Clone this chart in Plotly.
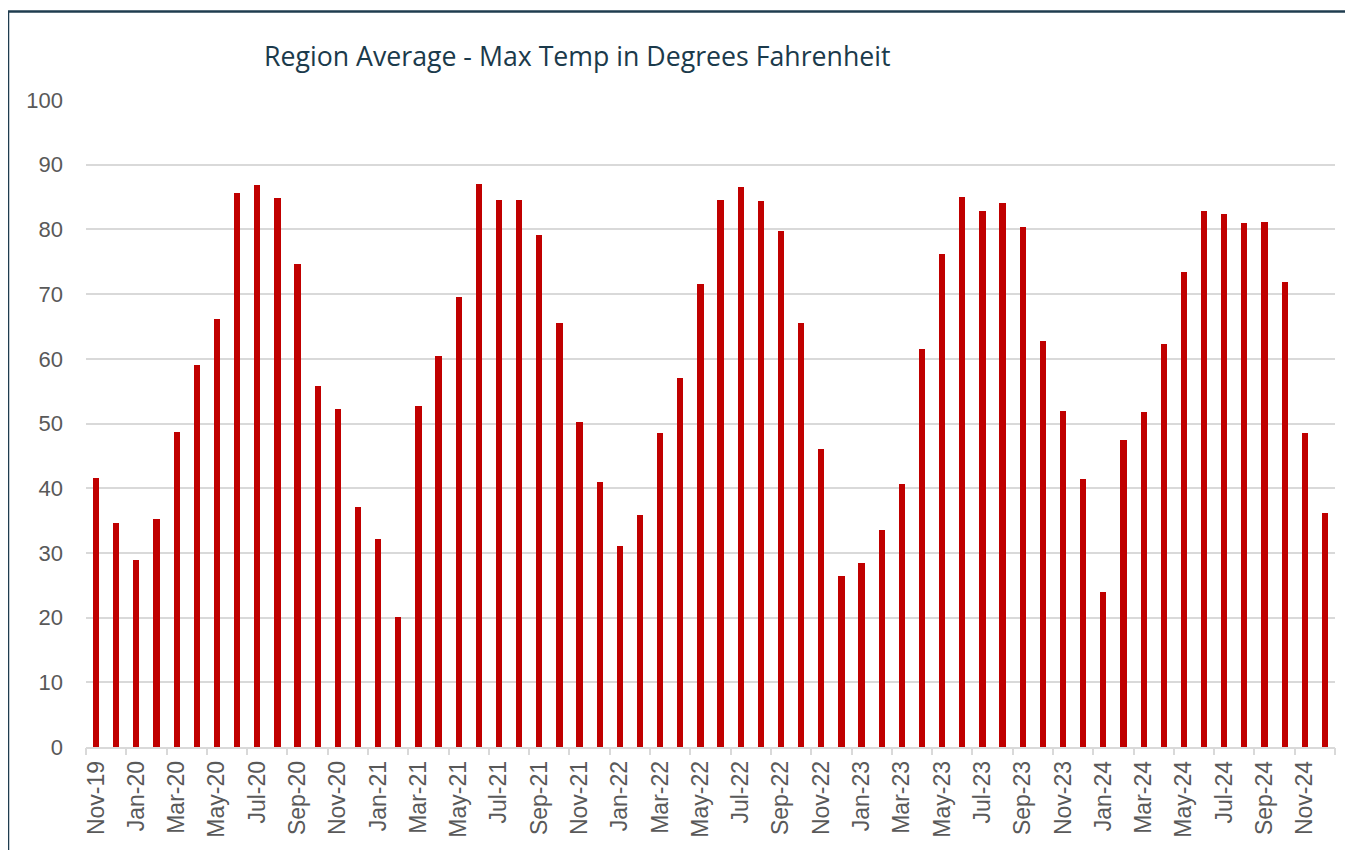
import plotly.graph_objects as go

months = [
    "Nov-19", "Dec-19",
    "Jan-20", "Feb-20", "Mar-20", "Apr-20", "May-20", "Jun-20", "Jul-20", "Aug-20", "Sep-20", "Oct-20", "Nov-20", "Dec-20",
    "Jan-21", "Feb-21", "Mar-21", "Apr-21", "May-21", "Jun-21", "Jul-21", "Aug-21", "Sep-21", "Oct-21", "Nov-21", "Dec-21",
    "Jan-22", "Feb-22", "Mar-22", "Apr-22", "May-22", "Jun-22", "Jul-22", "Aug-22", "Sep-22", "Oct-22", "Nov-22", "Dec-22",
    "Jan-23", "Feb-23", "Mar-23", "Apr-23", "May-23", "Jun-23", "Jul-23", "Aug-23", "Sep-23", "Oct-23", "Nov-23", "Dec-23",
    "Jan-24", "Feb-24", "Mar-24", "Apr-24", "May-24", "Jun-24", "Jul-24", "Aug-24", "Sep-24", "Oct-24", "Nov-24", "Dec-24",
]

max_temp = [
    41.6, 34.6,
    28.9, 35.3, 48.7, 59.1, 66.1, 85.7, 86.8, 84.9, 74.7, 55.8, 52.2, 37.1,
    32.2, 20.1, 52.7, 60.4, 69.5, 87.0, 84.5, 84.6, 79.2, 65.5, 50.3, 41.0,
    31.1, 35.8, 48.6, 57.1, 71.6, 84.6, 86.5, 84.4, 79.8, 65.5, 46.1, 26.5,
    28.4, 33.5, 40.6, 61.5, 76.2, 85.0, 82.8, 84.1, 80.3, 62.8, 51.9, 41.5,
    23.9, 47.5, 51.8, 62.3, 73.4, 82.8, 82.4, 81.0, 81.2, 71.9, 48.5, 36.2,
]

tick_labels = months[::2]
boundary_ticks = [i - 0.5 for i in range(0, len(months) + 1, 2)]

title_text = "Region Average - Max Temp in Degrees Fahrenheit"

# page body has an 8px margin: figure origin sits at (8, 8)
W, H = 1345, 842
ML, MR, MT, MB = 78, 18, 92, 99
PW = W - ML - MR
PH = H - MT - MB

fig = go.Figure()
fig.add_trace(go.Bar(
    x=months, y=max_temp,
    marker=dict(color="#C00000", line=dict(width=0)),
    width=0.31,
    showlegend=False,
    hoverinfo="x+y",
))
# helper empty trace so the boundary tick axis is drawn
fig.add_trace(go.Scatter(x=[], y=[], xaxis="x2", showlegend=False))

fig.update_layout(
    width=W, height=H,
    margin=dict(l=ML, r=MR, t=MT, b=MB, pad=0),
    paper_bgcolor="white", plot_bgcolor="white",
    bargap=0,
    title=dict(
        text=title_text,
        x=(264 - 8) / W, xanchor="left", xref="container",
        y=1 - (57 - 8) / H, yanchor="middle", yref="container",
        font=dict(family="Open Sans, sans-serif", size=26.7, color="#1B3A4B"),
    ),
    xaxis=dict(
        type="category",
        categoryorder="array", categoryarray=months,
        range=[-0.5, len(months) - 0.5],
        tickmode="array", tickvals=tick_labels, ticktext=tick_labels,
        tickangle=-90,
        ticks="",
        ticklabelstandoff=3,
        tickfont=dict(family="Liberation Sans, Arial, sans-serif", size=23, color="#595959"),
        showgrid=False,
        showline=True, linecolor="#D9D9D9", linewidth=1.5,
        zeroline=False,
    ),
    xaxis2=dict(
        overlaying="x", anchor="y", side="bottom",
        range=[-0.5, len(months) - 0.5],
        tickmode="array", tickvals=boundary_ticks,
        ticks="outside", ticklen=7, tickwidth=1.5, tickcolor="#D9D9D9",
        showticklabels=False, showgrid=False, showline=False, zeroline=False,
    ),
    yaxis=dict(
        range=[0, 100], dtick=10, tick0=0,
        ticks="", ticklabelstandoff=22,
        tickfont=dict(family="Liberation Sans, Arial, sans-serif", size=22, color="#595959"),
        showgrid=True, gridcolor="#D9D9D9", gridwidth=1.5,
        zeroline=False, showline=False,
    ),
    shapes=[
        dict(type="line", xref="paper", yref="paper",
             x0=-ML / PW, x1=1.2, y0=1 + (MT - 3) / PH, y1=1 + (MT - 3) / PH,
             line=dict(color="#1F3C4F", width=2.5)),
        dict(type="line", xref="paper", yref="paper",
             x0=-ML / PW, x1=-ML / PW, y0=1 + (MT - 3) / PH, y1=-0.25,
             line=dict(color="#1F3C4F", width=2.5)),
    ],
)

fig.write_html("out.html")
